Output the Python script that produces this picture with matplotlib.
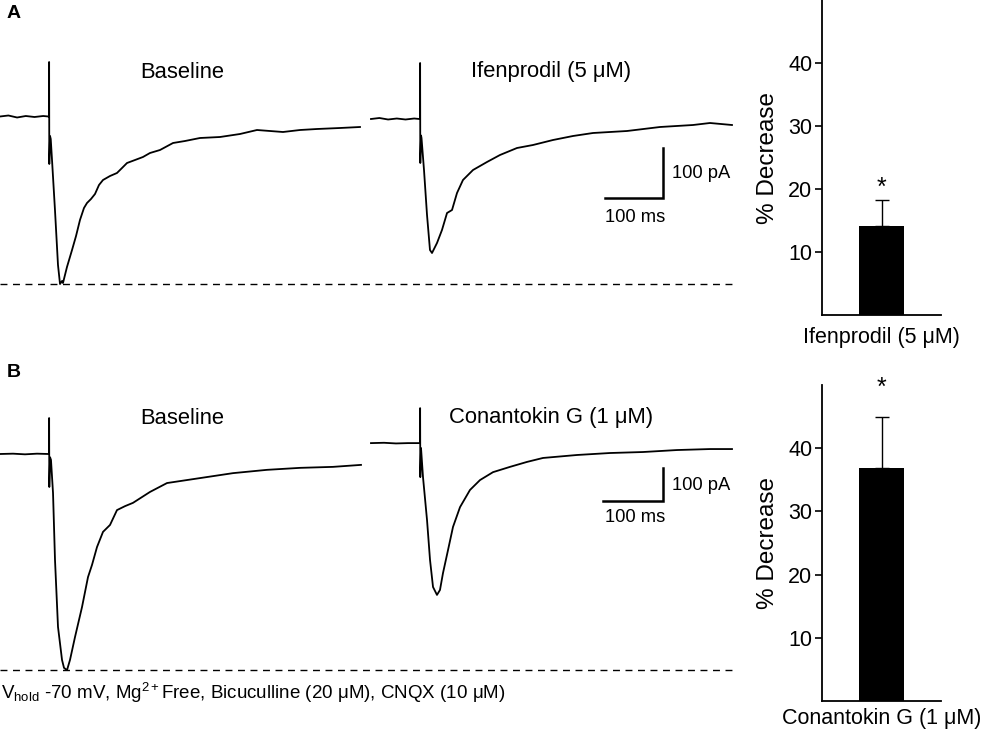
import matplotlib
matplotlib.use("Agg")
import matplotlib.pyplot as plt
import numpy as np

plt.rcParams['font.family'] = ['Liberation Sans', 'DejaVu Sans']
plt.rcParams['mathtext.fontset'] = 'custom'
plt.rcParams['mathtext.rm'] = 'Liberation Sans'
plt.rcParams['mathtext.it'] = 'Liberation Sans:italic'

# ---------------- data (time in ms from stimulus, current in pA) ----------------
a_base_t = [-84.5, -70, -55, -40, -25, -10, -1, 0, 0.2, 0.5, 1.8, 3.0, 5.2, 10.3, 15.5, 19.0,
            22.4, 24.1, 31.0, 39.7, 46.6, 53.4, 60.3, 65.5, 72.4, 79.3, 86.2, 93.1, 105.2,
            117.2, 125.9, 134.5, 148.3, 162.0, 174.1, 191.4, 213.8, 234.5, 260.3, 294.8,
            329.3, 358.6, 403.4, 432.8, 462.1, 501.7, 536.2]
a_base_i = [0, 2, -2, 1, -1, 1, 0, 0, 109, -95, -39, -45, -87, -187, -297, -335,
            -329, -333, -301, -267, -239, -207, -183, -173, -165, -155, -137, -127, -119,
            -113, -103, -93, -87, -81, -73, -67, -53, -49, -43, -41,
            -35, -27, -31, -27, -25, -23, -21]

a_drug_t = [-84.5, -70, -55, -40, -25, -10, -1, 0, 0.2, 0.5, 1.8, 2.6, 6.9, 12.1, 17.2, 20.7,
            29.3, 37.9, 46.6, 55.2, 63.8, 74.1, 91.4, 115.5, 137.9, 167.2, 194.8, 229.3,
            263.8, 298.3, 356.9, 413.8, 470.7, 500.0, 537.9]
a_drug_i = [-5, -3, -6, -4, -6, -4, -5, -5, 107, -93, -38, -43, -107, -197, -267, -273,
            -253, -227, -193, -187, -153, -127, -107, -91, -77, -63, -57, -47,
            -39, -33, -29, -21, -17, -13, -17]

b_base_t = [-81.7, -60, -40, -20, -1, 0, 0.2, 0.5, 1.8, 3.3, 6.7, 10.0, 15.0, 21.7, 25.0, 30.0,
            35.0, 43.3, 55.0, 65.0, 71.7, 80.0, 90.0, 101.7, 113.3, 126.7, 140.0, 168.3,
            196.7, 251.7, 306.7, 363.3, 418.3, 473.3, 520.0]
b_base_i = [0, 1, -1, 1, 0, 0, 109, -100, -10, -18, -118, -321, -524, -624, -648, -655,
            -624, -555, -464, -373, -336, -282, -236, -215, -170, -158, -148, -115,
            -88, -73, -58, -48, -42, -39, -33]

b_drug_t = [-81.7, -60, -40, -20, -1, 0, 0.2, 0.5, 1.7, 5.0, 11.7, 16.7, 21.7, 28.3, 33.3,
            38.3, 46.7, 55.0, 66.7, 83.3, 100.0, 121.7, 150.0, 178.3, 205.0, 261.7, 316.7,
            371.7, 428.3, 483.3, 520.0]
b_drug_i = [33, 34, 32, 33, 33, 33, 139, -70, 18, -70, -200, -321, -403, -427, -412,
            -361, -291, -221, -161, -109, -79, -55, -39, -24, -12, -3, 3,
            6, 12, 15, 15]

trace_titles = [["Baseline", "Ifenprodil (5 \u03bcM)"],
                ["Baseline", "Conantokin G (1 \u03bcM)"]]
panel_letters = ["A", "B"]

bar_labels = ["Ifenprodil (5 \u03bcM)", "Conantokin G (1 \u03bcM)"]
bar_means = [14.1, 36.8]
bar_sem = [4.2, 8.1]
bar_yticks = [10, 20, 30, 40]
scale_ms = 100
scale_pA = 100
footnote = (r"V$_{\mathregular{hold}}$ -70 mV, Mg$^{\mathregular{2+}}$Free, "
            "Bicuculline (20 \u03bcM), CNQX (10 \u03bcM)")

# ---------------- layout ----------------
W, H = 985, 732
fig = plt.figure(figsize=(W / 100, H / 100), dpi=100)


def px_axes(x0, y0, x1, y1):
    return fig.add_axes([x0 / W, 1 - y1 / H, (x1 - x0) / W, (y1 - y0) / H])


def ftext(x, y, s, **kw):
    fig.text(x / W, 1 - y / H, s, **kw)


rows = [
    dict(box=(0, 0, 740, 300), ppms=0.58, pppa=0.5, x0=49, y0=116.5, xd=420,
         sb=(663, 198), title_y=72, sbl_y=(173, 217),
         traces=((a_base_t, a_base_i), (a_drug_t, a_drug_i)), letter_y=14),
    dict(box=(0, 380, 740, 700), ppms=0.60, pppa=0.33, x0=49, y0=454, xd=420,
         sb=(663, 501), title_y=418, sbl_y=(485, 518),
         traces=((b_base_t, b_base_i), (b_drug_t, b_drug_i)), letter_y=373),
]

for r, row in enumerate(rows):
    bx0, by0, bx1, by1 = row['box']
    ax = px_axes(bx0, by0, bx1, by1)
    ax.set_axis_off()
    ppms, pppa = row['ppms'], row['pppa']
    ax.set_xlim((bx0 - row['x0']) / ppms, (bx1 - row['x0']) / ppms)
    ax.set_ylim(-(by1 - row['y0']) / pppa, (row['y0'] - by0) / pppa)
    drug_offset = (row['xd'] - row['x0']) / ppms

    (bt, bi), (dt, di) = row['traces']
    ax.plot(bt, bi, color='black', lw=1.3, solid_joinstyle='round')
    ax.plot(np.array(dt) + drug_offset, di, color='black', lw=1.3, solid_joinstyle='round')
    ax.axhline(min(bi), xmin=0, xmax=735 / 740, color='black', lw=1.0,
               ls=(0, (5, 4)))

    # scale bar
    sx, sy = row['sb']
    tx = (sx - row['x0']) / ppms
    ty = -(sy - row['y0']) / pppa
    ax.plot([tx - scale_ms, tx, tx], [ty, ty, ty + scale_pA], color='black', lw=1.8,
            solid_joinstyle='miter')
    ftext(sx + 9, row['sbl_y'][0], f"{scale_pA} pA", ha='left', va='center', fontsize=13.2)
    ftext(sx - 28, row['sbl_y'][1], f"{scale_ms} ms", ha='center', va='center', fontsize=13.2)

    # titles
    ftext(182, row['title_y'], trace_titles[r][0], ha='center', va='center', fontsize=15.8)
    ftext(551, row['title_y'], trace_titles[r][1], ha='center', va='center', fontsize=15.8)
    ftext(7, row['letter_y'], panel_letters[r], ha='left', va='center', fontsize=14,
          fontweight='bold')

# ---------------- bar panels ----------------
bar_boxes = [(822, 0, 941, 315), (822, 385, 941, 701)]
star_pad = [1.9, 4.6]
label_pad = [9, 5]
for k, box in enumerate(bar_boxes):
    ax = px_axes(*box)
    ax.bar([0], [bar_means[k]], width=0.6, color='black',
           yerr=[[0], [bar_sem[k]]], capsize=5,
           error_kw=dict(elinewidth=1.0, capthick=1.0, ecolor='black'))
    ax.set_xlim(-0.793, 0.793)
    ax.set_ylim(0, 50)
    ax.spines['top'].set_visible(False)
    ax.spines['right'].set_visible(False)
    for s in ('left', 'bottom'):
        ax.spines[s].set_linewidth(1.3)
    ax.set_yticks(bar_yticks)
    ax.tick_params(axis='y', length=5, width=1.2, labelsize=15.5, pad=2)
    ax.set_xticks([])
    ax.set_xlabel(bar_labels[k], fontsize=15.5, labelpad=label_pad[k])
    ax.set_ylabel("% Decrease", fontsize=17.5)
    ax.yaxis.set_label_coords(-0.36, 0.5)
    ax.text(0, bar_means[k] + bar_sem[k] + star_pad[k], "*", ha='center', va='center',
            fontsize=18, clip_on=False)

ftext(1, 693, footnote, ha='left', va='center', fontsize=13.5)

fig.savefig("out.png", dpi=100)
